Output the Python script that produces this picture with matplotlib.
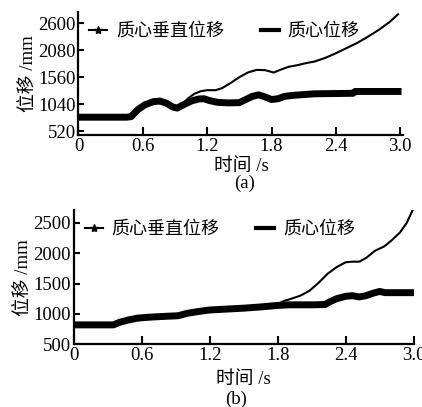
import matplotlib
matplotlib.use("Agg")
import matplotlib.pyplot as plt
from matplotlib.lines import Line2D

plt.rcParams['font.family'] = ['Liberation Serif', 'Noto Sans CJK SC']
plt.rcParams['axes.unicode_minus'] = False

# ---------------- data (a) ----------------
a_vert_t = [0, 0.45, 0.49, 0.55, 0.62, 0.70, 0.76, 0.82, 0.88, 0.92, 0.97, 1.05, 1.12, 1.17,
            1.22, 1.30, 1.40, 1.50, 1.56, 1.62, 1.68, 1.74, 1.80, 1.86, 1.92, 2.00, 2.10,
            2.20, 2.40, 2.56, 2.58, 2.80, 2.98]
a_vert_v = [790, 790, 800, 930, 1030, 1090, 1100, 1060, 985, 965, 1020, 1100, 1140, 1145,
            1110, 1075, 1065, 1070, 1130, 1190, 1220, 1180, 1130, 1145, 1190, 1210, 1225,
            1240, 1245, 1250, 1285, 1285, 1285]
a_tot_t = [0, 0.45, 0.49, 0.55, 0.62, 0.70, 0.76, 0.82, 0.88, 0.92, 0.97, 1.02, 1.08, 1.14,
           1.20, 1.28, 1.34, 1.42, 1.50, 1.58, 1.66, 1.74, 1.82, 1.88, 1.96, 2.04, 2.12,
           2.20, 2.30, 2.40, 2.50, 2.60, 2.70, 2.80, 2.90, 2.98]
a_tot_v = [790, 790, 800, 930, 1030, 1090, 1100, 1060, 985, 965, 1040, 1150, 1240, 1290,
           1310, 1310, 1350, 1450, 1560, 1650, 1700, 1695, 1650, 1700, 1760, 1790, 1830,
           1860, 1930, 2020, 2120, 2220, 2340, 2470, 2620, 2770]

# ---------------- data (b) ----------------
b_vert_t = [0, 0.35, 0.40, 0.48, 0.56, 0.62, 0.70, 0.80, 0.92, 1.00, 1.10, 1.20, 1.35, 1.50,
            1.65, 1.80, 1.90, 2.00, 2.10, 2.22, 2.26, 2.32, 2.40, 2.46, 2.52, 2.58, 2.64,
            2.70, 2.75, 2.85, 2.98]
b_vert_v = [820, 820, 860, 900, 930, 940, 950, 960, 970, 1010, 1040, 1065, 1080, 1095,
            1115, 1140, 1150, 1150, 1150, 1155, 1200, 1250, 1290, 1300, 1280, 1300, 1340,
            1370, 1350, 1350, 1350]
b_tot_t = [0, 0.35, 0.40, 0.48, 0.56, 0.62, 0.70, 0.80, 0.92, 1.00, 1.10, 1.20, 1.35, 1.50,
           1.65, 1.80, 1.85, 1.92, 2.00, 2.08, 2.16, 2.24, 2.32, 2.40, 2.46, 2.52, 2.58,
           2.66, 2.74, 2.80, 2.88, 2.94, 3.00]
b_tot_v = [820, 820, 860, 900, 930, 940, 950, 960, 970, 1010, 1040, 1065, 1080, 1095,
           1115, 1160, 1210, 1250, 1300, 1380, 1510, 1660, 1770, 1850, 1860, 1860, 1920,
           2040, 2110, 2200, 2340, 2500, 2740]

x_ticks = [0, 0.6, 1.2, 1.8, 2.4, 3.0]
x_ticklabels = ['0', '0.6', '1.2', '1.8', '2.4', '3.0']
a_yticks = [520, 1040, 1560, 2080, 2600]
b_yticks = [500, 1000, 1500, 2000, 2500]

label_vert = '质心垂直位移'
label_tot = '质心位移'
xlabel = '时间 /s'
ylabel = '位移 /mm'

fig = plt.figure(figsize=(4.22, 4.07), dpi=100)
ax1 = fig.add_axes([0.186, 0.668, 0.770, 0.302])
ax2 = fig.add_axes([0.175, 0.154, 0.805, 0.330])

FS = 13.5
LFS = 13

def style(ax, yticks, ylim, xlim, xpad):
    ax.set_xlim(*xlim)
    ax.set_ylim(*ylim)
    ax.set_xticks(x_ticks)
    ax.set_xticklabels(x_ticklabels)
    ax.set_yticks(yticks)
    ax.set_yticklabels([str(v) for v in yticks])
    for s in ['top', 'right']:
        ax.spines[s].set_visible(False)
    for s in ['left', 'bottom']:
        ax.spines[s].set_linewidth(1.6)
    ax.tick_params(axis='both', direction='in', width=1.5, labelsize=FS, pad=2)
    ax.tick_params(axis='x', length=6)
    ax.tick_params(axis='y', length=4)
    ax.set_xlabel(xlabel, fontsize=FS, labelpad=xpad)
    ax.set_ylabel(ylabel, fontsize=FS, labelpad=1)
    h1 = Line2D([], [], color='black', lw=1.5, marker='*', markersize=6)
    h2 = Line2D([], [], color='black', lw=3)
    ax.legend([h1, h2], [label_vert, label_tot], loc='upper left', ncol=2, frameon=False,
              fontsize=LFS, handlelength=1.0, handletextpad=0.5, columnspacing=2.0,
              bbox_to_anchor=(0.0, 1.0), borderaxespad=0.2)

ax1.plot(a_tot_t, a_tot_v, color='black', lw=1.5)
ax1.plot(a_vert_t, a_vert_v, color='black', lw=5, solid_joinstyle='round')
style(ax1, a_yticks, (445, 2810), (0, 3.03), 2)

ax2.plot(b_tot_t, b_tot_v, color='black', lw=1.5)
ax2.plot(b_vert_t, b_vert_v, color='black', lw=5, solid_joinstyle='round')
style(ax2, b_yticks, (500, 2710), (0, 3.0), 5)

fig.text(0.58, 1 - 183 / 407, '(a)', ha='center', va='center', fontsize=FS)
fig.text(0.56, 1 - 399 / 407, '(b)', ha='center', va='center', fontsize=FS)

fig.savefig('out.png', dpi=100)
